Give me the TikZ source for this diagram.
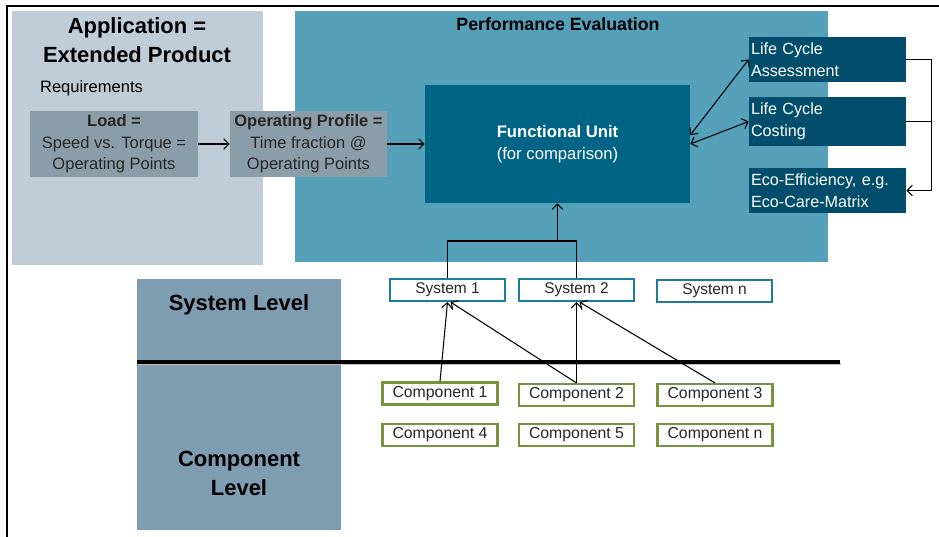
\documentclass[tikz,border=0pt]{standalone}
\usepackage{fontspec}
\setmainfont{Liberation Sans}
\usepackage{xcolor}
\usetikzlibrary{arrows.meta}

\definecolor{appgrey}{HTML}{BFCDD8}
\definecolor{loadgrey}{HTML}{8C9DAA}
\definecolor{perfteal}{HTML}{55A1BA}
\definecolor{unitblue}{HTML}{006487}
\definecolor{cycleblue}{HTML}{004E6B}
\definecolor{levelgrey}{HTML}{7F9DB0}
\definecolor{sysline}{HTML}{1F7B9C}
\definecolor{compline}{HTML}{77933C}

\tikzset{
  >={Straight Barb[length=3pt,width=6pt]},
  panel/.style={rectangle,inner sep=0pt},
  headline/.style={align=center,font=\bfseries\fontsize{12.5}{16.5}\selectfont},
  greybox/.style={fill=loadgrey,align=center,text=black!85,minimum height=1.32cm,
    inner sep=0pt,font=\fontsize{9.4}{12.2}\selectfont},
  cyclebox/.style={fill=cycleblue,text=white,align=left,text width=3.06cm,
    inner xsep=0.04cm,minimum height=0.86cm,font=\fontsize{9.2}{12.4}\selectfont},
  sysbox/.style={draw=sysline,line width=1.2pt,fill=white,minimum width=2.3cm,
    minimum height=0.44cm,inner sep=0pt,text=black!85,font=\fontsize{8.8}{10}\selectfont},
  compbox/.style={draw=compline,line width=1.2pt,fill=white,minimum width=2.3cm,
    minimum height=0.44cm,inner sep=0pt,text=black!85,font=\fontsize{9}{10}\selectfont},
  link/.style={->,line width=0.6pt},
}

\begin{document}
\begin{tikzpicture}[x=0.02cm,y=-0.02cm]
    \useasboundingbox (0,0) rectangle (939,537);
    \draw[line width=0.8pt] (7,537) -- (7,6) -- (939,6);

    % background panels
    \node[panel,fill=appgrey,minimum width=5.02cm,minimum height=5.08cm] (app) at (137.5,138) {};
    \node[panel,fill=perfteal,minimum width=10.66cm,minimum height=5.02cm] (perf) at (561.5,136.5) {};
    \node[panel,fill=levelgrey,minimum width=4.08cm,minimum height=5.02cm] (level) at (239,404.5) {};

    \node[headline] (apptitle) at (137,40.5) {Application =\\Extended Product};
    \node[font=\fontsize{9.4}{11}\selectfont] (req) at (91.5,88) {Requirements};
    \node[font=\bfseries\fontsize{10.1}{12}\selectfont] (perftitle) at (558,24) {Performance Evaluation};
    \node[headline] (systitle) at (239,305) {System Level};
    \node[headline] (comptitle) at (239,473.5) {Component\\Level};

    % application side
    \node[greybox,minimum width=3.36cm] (load) at (114,144) {\textbf{Load =}\\Speed vs. Torque =\\Operating Points};
    \node[greybox,minimum width=3.14cm] (profile) at (308.5,144) {\textbf{Operating Profile =}\\Time fraction @\\Operating Points};

    % evaluation side
    \node[panel,fill=unitblue,text=white,align=center,minimum width=5.3cm,minimum height=2.36cm,
      font=\fontsize{9.5}{12.4}\selectfont] (unit) at (557.5,144) {\textbf{Functional Unit}\\(for comparison)};
    \node[cyclebox] (lca) at (827.5,59.5) {Life Cycle\\Assessment};
    \node[cyclebox] (lcc) at (827.5,121.5) {Life Cycle\\Costing};
    \node[cyclebox] (eco) at (827.5,190.5) {Eco-Efficiency, e.g.\\Eco-Care-Matrix};

    % systems
    \node[sysbox] (sys1) at (447.5,290) {System 1};
    \node[sysbox] (sys2) at (576.5,290) {System 2};
    \node[sysbox] (sysn) at (714.5,291) {System n};

    % components
    \node[compbox] (comp1) at (440,393.5) {Component 1};
    \node[compbox] (comp2) at (576.5,395) {Component 2};
    \node[compbox] (comp3) at (715,395) {Component 3};
    \node[compbox] (comp4) at (440,435) {Component 4};
    \node[compbox] (comp5) at (576.5,435) {Component 5};
    \node[compbox] (compn) at (715,435) {Component n};

    % level divider
    \coordinate (divL) at (137,362);
    \coordinate (divR) at (840,362);
    \draw[black!25,line width=1.6pt] ([shift={(0.02cm,-0.04cm)}]divL) -- ([shift={(0.02cm,-0.04cm)}]divR);
    \draw[line width=2.2pt] (divL) -- (divR);

    \path [link] (load) edge (profile);
    \path [link] (profile) edge (unit);
    \draw [<->,line width=0.6pt] ([yshift=0.18cm]unit.east) -- (lca.west);
    \draw [<->,line width=0.6pt] (unit.east) -- (lcc.west);
    \draw [link] (lca.east) -- ++(25,0) |- (eco.east);
    \draw [line width=0.6pt] (lcc.east) -- ++(25,0);

    \coordinate (bus) at (576.5,241);
    \coordinate (tap) at (557.5,241);
    \draw [line width=0.6pt] (sys1.north) |- (bus) -- (sys2.north);
    \draw [link] (tap) -- (unit.south);

    \draw [link] (comp1.north) -- (sys1.south);
    \draw [link] (comp2.north) -- ([xshift=0.06cm]sys1.south);
    \draw [link] (comp2.north) -- (sys2.south);
    \draw [link] (comp3.north) -- ([xshift=0.06cm]sys2.south);
\end{tikzpicture}
\end{document}
